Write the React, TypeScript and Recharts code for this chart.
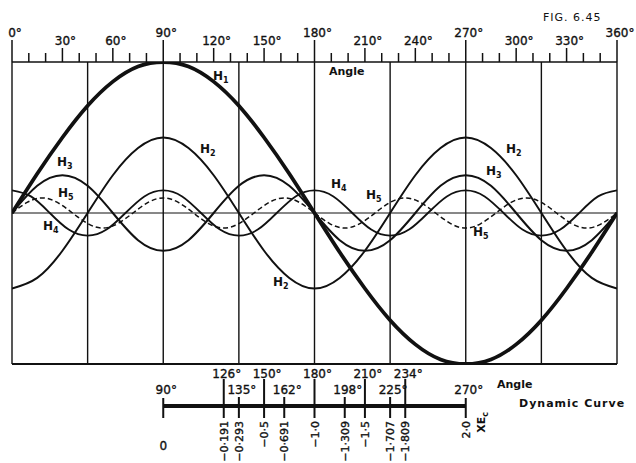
import React from 'react';
import { LineChart, Line, XAxis, YAxis, ReferenceLine } from 'recharts';

const INK = '#111';
const FONT = '"DejaVu Sans", sans-serif';

// ===== HARMONICS (in units of H1) =====
const anglesH1 = [0, 15, 30, 45, 60, 75, 90, 105, 120, 135, 150, 165, 180, 195, 210, 225, 240, 255, 270, 285, 300, 315, 330, 345, 360];
const h1Values = [0, 0.26, 0.5, 0.71, 0.87, 0.97, 1, 0.97, 0.87, 0.71, 0.5, 0.26, 0, -0.26, -0.5, -0.71, -0.87, -0.97, -1, -0.97, -0.87, -0.71, -0.5, -0.26, 0];

const anglesH2 = anglesH1;
const h2Values = [-0.5, -0.43, -0.25, 0, 0.25, 0.43, 0.5, 0.43, 0.25, 0, -0.25, -0.43, -0.5, -0.43, -0.25, 0, 0.25, 0.43, 0.5, 0.43, 0.25, 0, -0.25, -0.43, -0.5];

const anglesH3 = anglesH1;
const h3Values = [0, 0.18, 0.25, 0.18, 0, -0.18, -0.25, -0.18, 0, 0.18, 0.25, 0.18, 0, -0.18, -0.25, -0.18, 0, 0.18, 0.25, 0.18, 0, -0.18, -0.25, -0.18, 0];

const anglesH4 = [0, 11.25, 22.5, 33.75, 45, 56.25, 67.5, 78.75, 90, 101.25, 112.5, 123.75, 135, 146.25, 157.5, 168.75, 180, 191.25, 202.5, 213.75, 225, 236.25, 247.5, 258.75, 270, 281.25, 292.5, 303.75, 315, 326.25, 337.5, 348.75, 360];
const h4Values = [0.15, 0.11, 0, -0.11, -0.15, -0.11, 0, 0.11, 0.15, 0.11, 0, -0.11, -0.15, -0.11, 0, 0.11, 0.15, 0.11, 0, -0.11, -0.15, -0.11, 0, 0.11, 0.15, 0.11, 0, -0.11, -0.15, -0.11, 0, 0.11, 0.15];

const anglesH5 = [0, 9, 18, 27, 36, 45, 54, 63, 72, 81, 90, 99, 108, 117, 126, 135, 144, 153, 162, 171, 180, 189, 198, 207, 216, 225, 234, 243, 252, 261, 270, 279, 288, 297, 306, 315, 324, 333, 342, 351, 360];
const h5Values = [0, 0.07, 0.1, 0.07, 0, -0.07, -0.1, -0.07, 0, 0.07, 0.1, 0.07, 0, -0.07, -0.1, -0.07, 0, 0.07, 0.1, 0.07, 0, -0.07, -0.1, -0.07, 0, 0.07, 0.1, 0.07, 0, -0.07, -0.1, -0.07, 0, 0.07, 0.1, 0.07, 0, -0.07, -0.1, -0.07, 0];

// ===== SCALES =====
const topTicks = [0, 10, 20, 30, 40, 50, 60, 70, 80, 90, 100, 110, 120, 130, 140, 150, 160, 170, 180, 190, 200, 210, 220, 230, 240, 250, 260, 270, 280, 290, 300, 310, 320, 330, 340, 350, 360];
const gridAngles = [0, 45, 90, 135, 180, 225, 270, 315, 360];

// dynamic curve scale
const dynAngles = [90, 126, 135, 150, 162, 180, 198, 210, 225, 234, 270];
const dynValues = ['0', '−0·191', '−0·293', '−0·5', '−0·691', '−1·0', '−1·309', '−1·5', '−1·707', '−1·809', '2·0'];
const dynTopRow = [126, 150, 180, 210, 234];
const dynBarLevel = -1.278;

const toPoints = (angles: number[], values: number[]) => angles.map((a, i) => ({ a, v: values[i] }));

const series = [
  { name: 'H1', data: toPoints(anglesH1, h1Values), width: 3.8, dash: undefined },
  { name: 'H2', data: toPoints(anglesH2, h2Values), width: 2, dash: undefined },
  { name: 'H3', data: toPoints(anglesH3, h3Values), width: 2, dash: undefined },
  { name: 'H4', data: toPoints(anglesH4, h4Values), width: 1.8, dash: undefined },
  { name: 'H5', data: toPoints(anglesH5, h5Values), width: 1.5, dash: '5 3' },
];

// curve labels, placed by hand
const curveLabels = [
  { n: '1', x: 213, y: 80 },
  { n: '2', x: 200, y: 153 },
  { n: '2', x: 273, y: 286 },
  { n: '3', x: 57, y: 166 },
  { n: '5', x: 58, y: 197 },
  { n: '4', x: 43, y: 230 },
  { n: '4', x: 331, y: 188 },
  { n: '5', x: 366, y: 199 },
  { n: '2', x: 506, y: 153 },
  { n: '3', x: 486, y: 175 },
  { n: '5', x: 473, y: 236 },
];

// slightly heavier lettering, like the drawn figure
const letter = { fontFamily: FONT, fill: INK, stroke: INK, strokeWidth: 0.35 };

function TopTick({ x, y, payload }: any) {
  const v = payload.value;
  const len = v % 90 === 0 ? 22 : v % 30 === 0 ? 14 : 9;
  return (
    <g>
      <line x1={x} y1={y} x2={x} y2={y - len} stroke={INK} strokeWidth={1.5} />
      {v % 30 === 0 && (
        <text x={x} y={y - len - 3} dx={3} textAnchor="middle" fontSize={12} {...letter}>
          {v}°
        </text>
      )}
    </g>
  );
}

function DynTick({ x, y, payload }: any) {
  const v = payload.value;
  const i = dynAngles.indexOf(v);
  const top = dynTopRow.includes(v);
  const end = v === 90 || v === 270;
  const tickTop = y + (top ? 15 : end ? 34 : 33);
  const labelY = y + (top ? 14 : 30);
  const valY = y + 57;
  return (
    <g>
      <line x1={x} y1={tickTop} x2={x} y2={y + 54} stroke={INK} strokeWidth={2} />
      <text x={x} y={labelY} dx={3} textAnchor="middle" fontSize={12} {...letter}>
        {v}°
      </text>
      {v === 90 ? (
        <text x={x} y={y + 86} textAnchor="middle" fontSize={12} {...letter}>
          {dynValues[i]}
        </text>
      ) : (
        <text x={x + 4} y={valY} textAnchor="end" fontSize={11} transform={`rotate(-90, ${x + 4}, ${valY})`} {...letter}>
          {dynValues[i]}
        </text>
      )}
      {v === 270 && (
        <text x={x + 19} y={y + 48} textAnchor="end" fontSize={11} fontWeight="bold"
          transform={`rotate(-90, ${x + 19}, ${y + 48})`} fontFamily={FONT} fill={INK}>
          XE<tspan fontSize={8} dy={3}>c</tspan>
        </text>
      )}
    </g>
  );
}

export default function App() {
  return (
    <div style={{ position: 'absolute', left: 0, top: 0, width: 636, height: 463, background: '#fff' }}>
      <LineChart width={636} height={463} margin={{ top: 32, right: 19, bottom: 0, left: 12 }}>
        <XAxis
          xAxisId="top"
          orientation="top"
          type="number"
          dataKey="a"
          domain={[0, 360]}
          allowDataOverflow
          ticks={topTicks}
          interval={0}
          height={30}
          tickSize={0}
          tickMargin={0}
          tickLine={false}
          axisLine={{ stroke: INK, strokeWidth: 1.6 }}
          tick={<TopTick />}
        />
        <XAxis
          xAxisId="dyn"
          orientation="bottom"
          type="number"
          dataKey="a"
          domain={[0, 360]}
          allowDataOverflow
          ticks={dynAngles}
          interval={0}
          height={99}
          tickSize={0}
          tickMargin={0}
          tickLine={false}
          axisLine={false}
          tick={<DynTick />}
        />
        <YAxis type="number" domain={[-1, 1]} allowDataOverflow hide />

        {gridAngles.map((g) => (
          <ReferenceLine key={g} xAxisId="top" x={g} stroke={INK} strokeWidth={1.4} />
        ))}
        <ReferenceLine xAxisId="top" y={0} stroke={INK} strokeWidth={1} />
        <ReferenceLine xAxisId="top" y={-1} stroke={INK} strokeWidth={1.8} />
        <ReferenceLine
          xAxisId="dyn"
          ifOverflow="visible"
          segment={[{ x: 90, y: dynBarLevel }, { x: 270, y: dynBarLevel }]}
          stroke={INK}
          strokeWidth={4}
        />

        {series.map((s) => (
          <Line
            key={s.name}
            xAxisId="top"
            data={s.data}
            dataKey="v"
            type="natural"
            stroke={INK}
            strokeWidth={s.width}
            strokeDasharray={s.dash}
            dot={false}
            isAnimationActive={false}
          />
        ))}
      </LineChart>

      <svg width={636} height={463} style={{ position: 'absolute', left: 0, top: 0, pointerEvents: 'none' }}
        fontFamily={FONT} fill={INK}>
        <text x={543} y={21} fontSize={11} letterSpacing={1}>FIG. 6.45</text>
        <text x={329} y={75} fontSize={11} fontWeight="bold">Angle</text>
        <text x={497} y={388} fontSize={11} fontWeight="bold">Angle</text>
        <text x={519} y={407} fontSize={11} fontWeight="bold" letterSpacing={1}>Dynamic Curve</text>
        {curveLabels.map((l, i) => (
          <text key={i} x={l.x} y={l.y} fontSize={12} fontWeight="bold">
            H<tspan fontSize={8} dy={3}>{l.n}</tspan>
          </text>
        ))}
      </svg>
    </div>
  );
}
